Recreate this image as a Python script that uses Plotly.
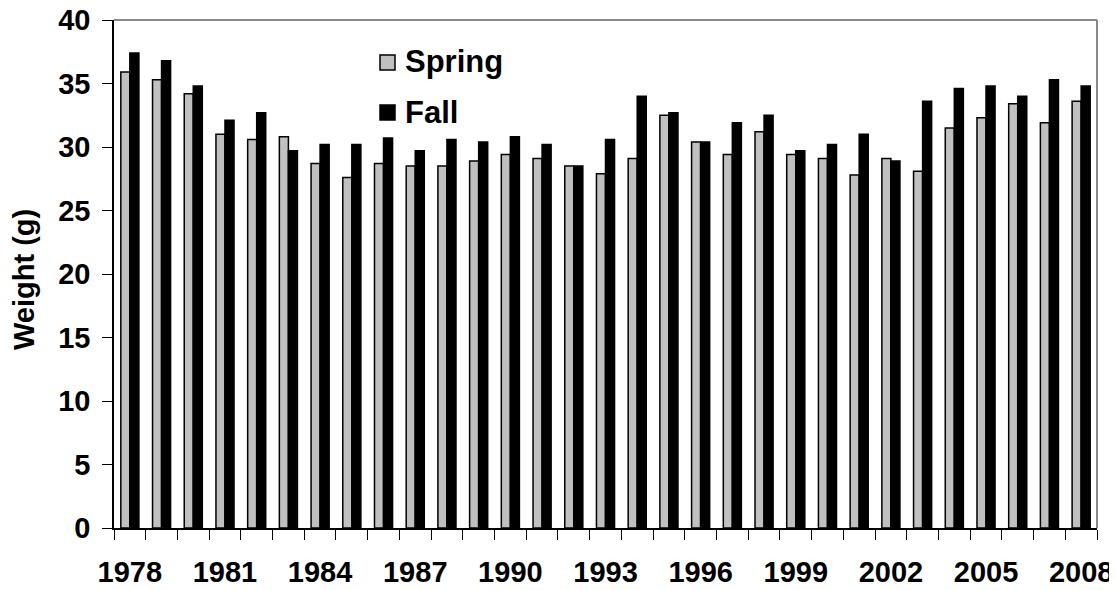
import plotly.graph_objects as go

years = list(range(1978, 2009))
spring = [35.9, 35.3, 34.2, 31.0, 30.6, 30.8, 28.7, 27.6, 28.7, 28.5,
          28.5, 28.9, 29.4, 29.1, 28.5, 27.9, 29.1, 32.5, 30.4, 29.4,
          31.2, 29.4, 29.1, 27.8, 29.1, 28.1, 31.5, 32.3, 33.4, 31.9, 33.6]
fall = [37.4, 36.8, 34.8, 32.1, 32.7, 29.7, 30.2, 30.2, 30.7, 29.7,
        30.6, 30.4, 30.8, 30.2, 28.5, 30.6, 34.0, 32.7, 30.4, 31.9,
        32.5, 29.7, 30.2, 31.0, 28.9, 33.6, 34.6, 34.8, 34.0, 35.3, 34.8]
label_years = list(range(1978, 2009, 3))
y_ticks = list(range(0, 41, 5))

# page geometry (the page body has an 8px margin)
OFF = 8
PAGE_W, PAGE_H = 1117, 590
W, H = PAGE_W - OFF, PAGE_H - OFF
L, R, T, B = 114, 1097, 20, 528          # plot area in page pixels
FONT = "Liberation Sans, Arial, sans-serif"
FS = 29

def px(x):
    return (x - L) / (R - L)

def py(y):
    return (B - y) / (B - T)

fig = go.Figure()
fig.add_trace(go.Bar(x=years, y=spring, name="Spring",
                     marker=dict(color="#C0C0C0", line=dict(color="black", width=1.5))))
fig.add_trace(go.Bar(x=years, y=fall, name="Fall",
                     marker=dict(color="black", line=dict(color="black", width=1.5))))

boundaries = [y - 0.5 for y in years] + [years[-1] + 0.5]

fig.update_layout(
    width=W, height=H,
    margin=dict(l=L - OFF, r=PAGE_W - R, t=T - OFF, b=(OFF + H) - B, pad=0),
    paper_bgcolor="white", plot_bgcolor="white",
    barmode="group", bargap=0.43, bargroupgap=0,
    showlegend=False,
    font=dict(family=FONT, size=FS, color="black"),
    xaxis=dict(range=[1977.5, 2008.5], tickmode="array", tickvals=label_years,
               ticktext=[f"<b>{y}</b>" for y in label_years],
               ticks="", showgrid=False, zeroline=False, automargin=False,
               showline=True, linecolor="black", linewidth=1.5,
               ticklabelstandoff=17, ticklabeloverflow="allow",
               minor=dict(tickmode="array", tickvals=boundaries, ticks="outside",
                          ticklen=10, tickwidth=1.2, tickcolor="black", showgrid=False)),
    yaxis=dict(range=[0, 40], tickmode="array", tickvals=y_ticks,
               ticktext=[f"<b>{v}</b>" for v in y_ticks],
               ticks="outside", ticklen=10, tickwidth=1.2, tickcolor="black",
               showgrid=False, zeroline=False, automargin=False,
               showline=True, linecolor="black", linewidth=1.5,
               ticklabelstandoff=6, ticklabeloverflow="allow"),
)

# gray frame on top and right
fig.add_shape(type="line", xref="paper", yref="paper", x0=0, x1=1, y0=1, y1=1,
              line=dict(color="#888888", width=2))
fig.add_shape(type="line", xref="paper", yref="paper", x0=1, x1=1, y0=0, y1=1,
              line=dict(color="#888888", width=2))

# axis title
fig.add_annotation(xref="paper", yref="paper", x=px(24), y=py(280),
                   xanchor="center", yanchor="middle",
                   text="<b>Weight (g)</b>", textangle=-90, showarrow=False,
                   font=dict(size=FS, family=FONT, color="black"))

# manual legend
legend_items = [("Spring", "#C0C0C0", 62), ("Fall", "black", 112)]
for name, col, cy in legend_items:
    fig.add_shape(type="rect", xref="paper", yref="paper",
                  x0=px(380), x1=px(395), y0=py(cy + 8), y1=py(cy - 7),
                  fillcolor=col, line=dict(color="black", width=1.5))
    fig.add_annotation(xref="paper", yref="paper", x=px(403), y=py(cy),
                       text=f"<b>{name}</b>", showarrow=False, xanchor="left",
                       yanchor="middle", font=dict(size=31, family=FONT, color="black"))

fig.write_html("out.html")
